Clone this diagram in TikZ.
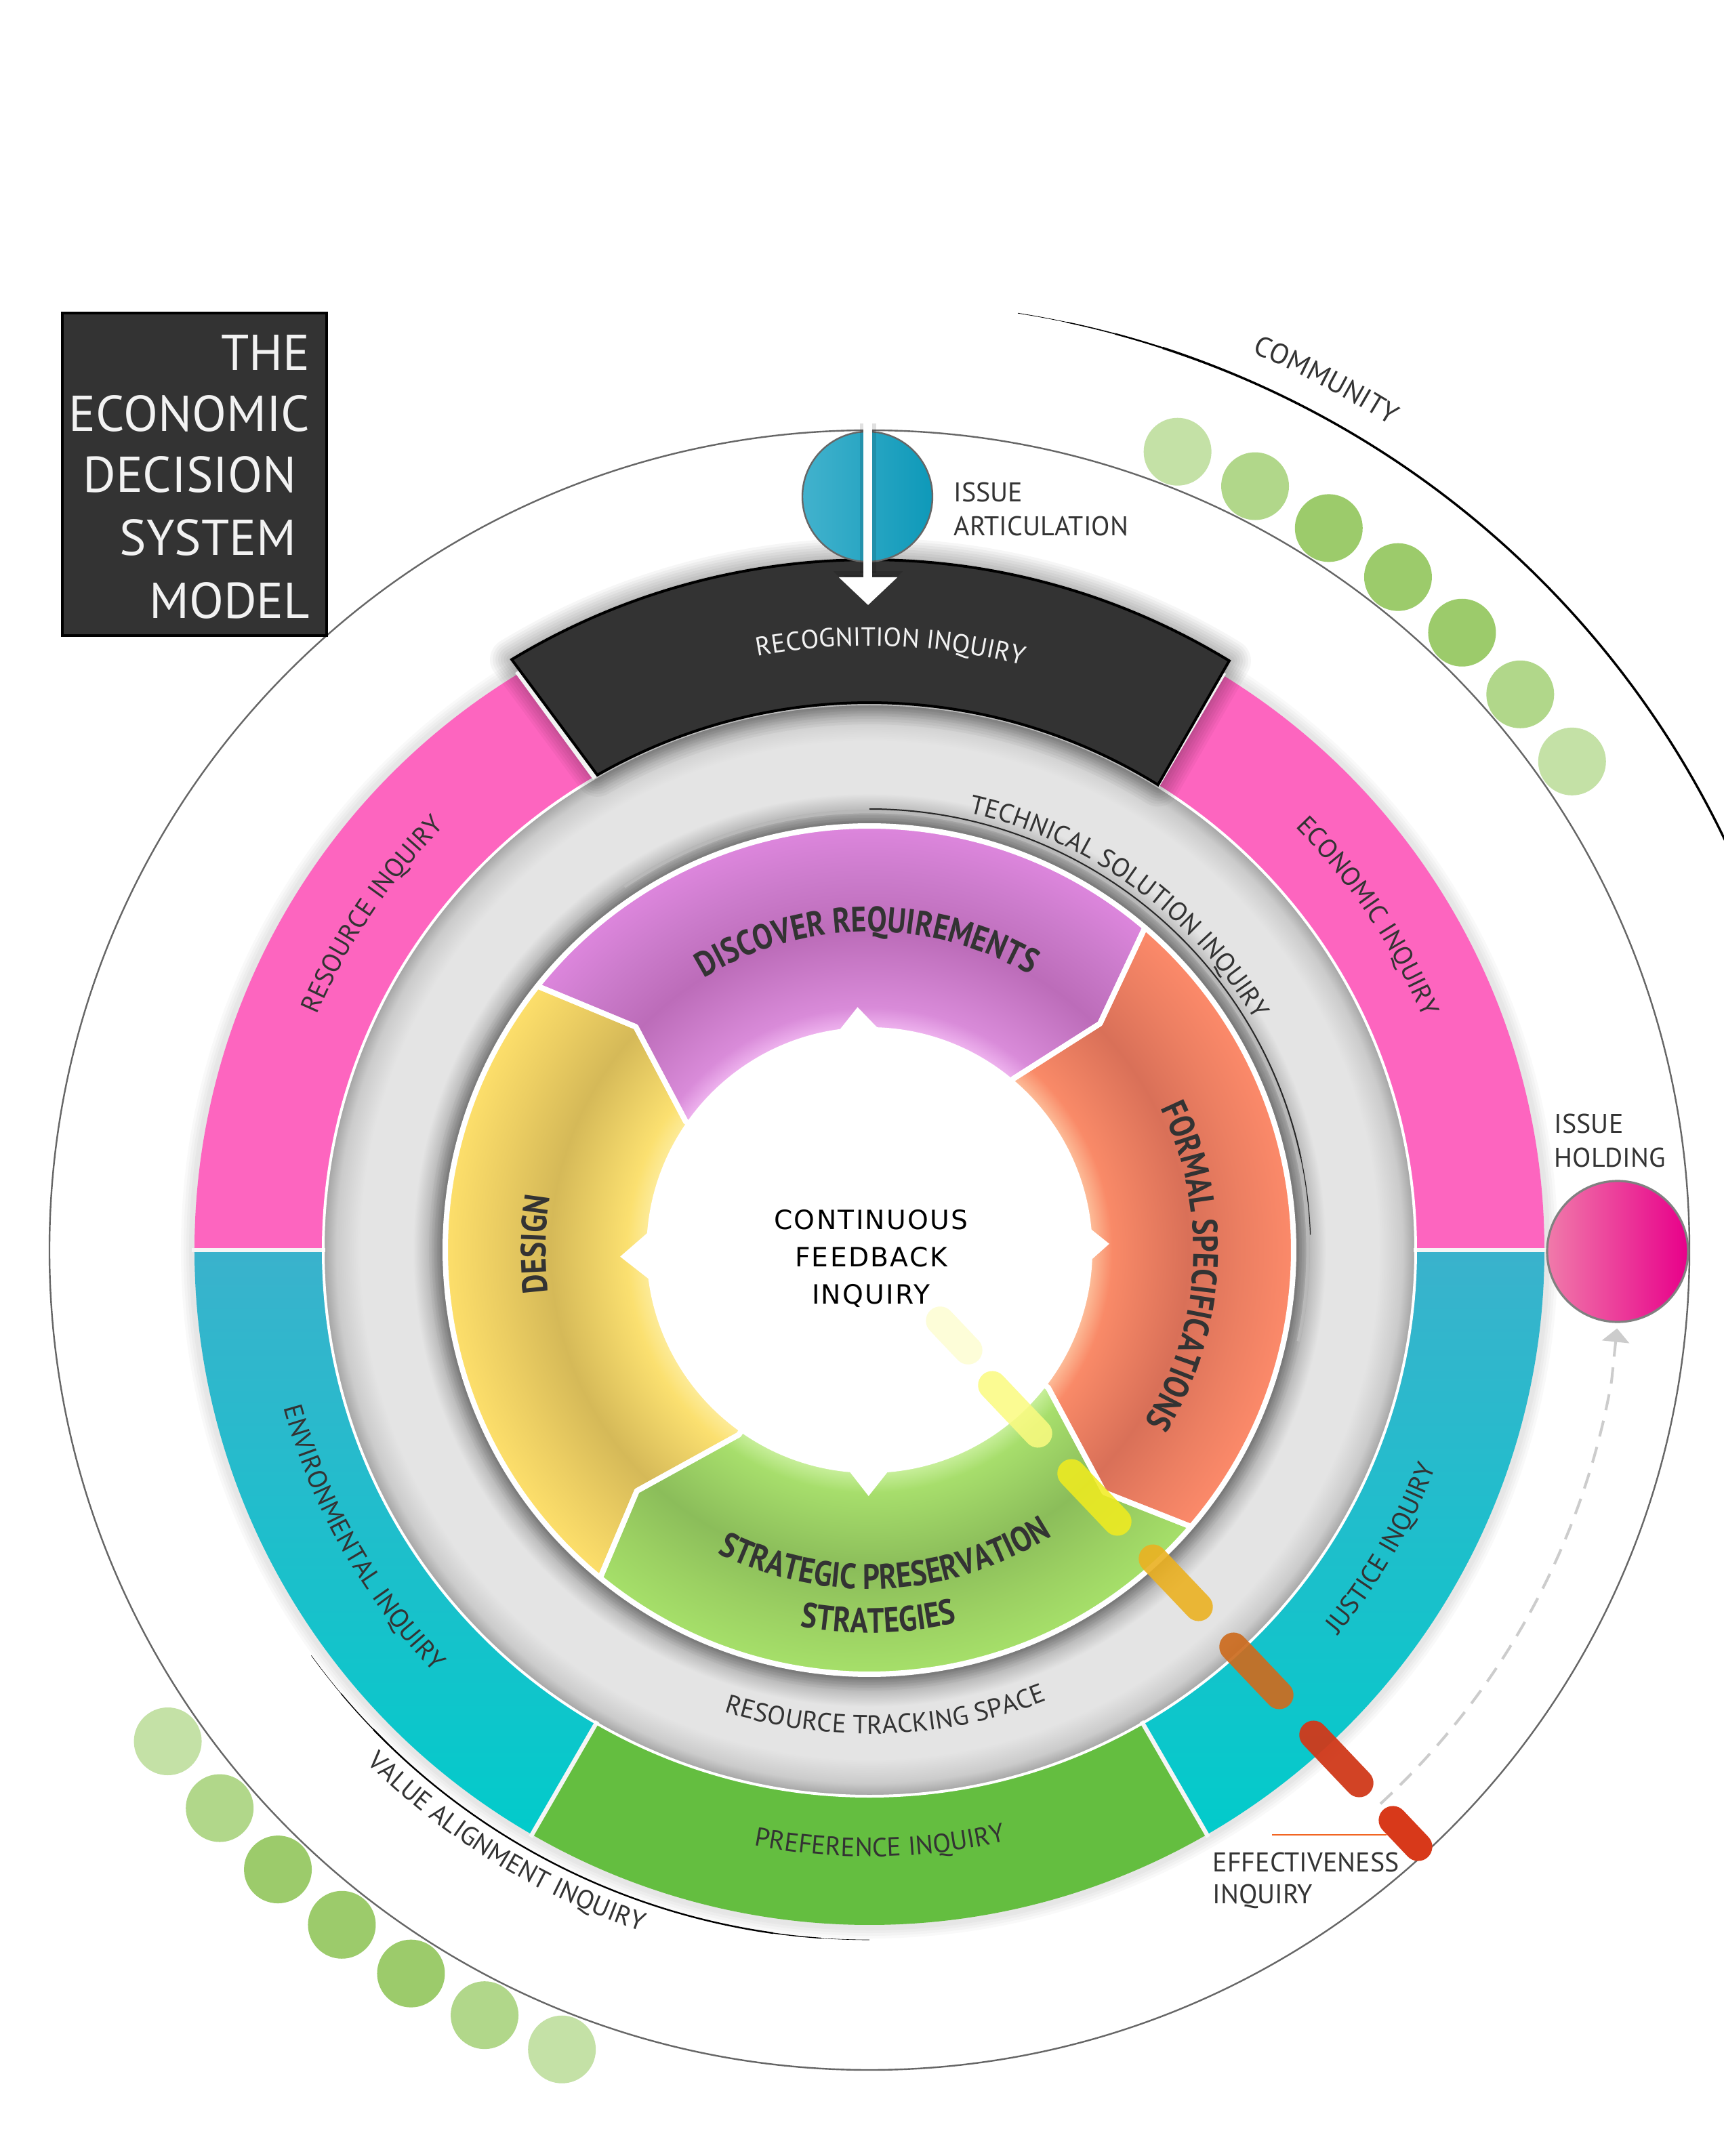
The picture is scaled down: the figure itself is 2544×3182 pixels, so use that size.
\documentclass[tikz,border=0pt]{standalone}
\usepackage{fontspec}
\setmainfont{PT Sans}
\newfontfamily\condfont[FakeStretch=0.84]{PT Sans}
\newfontfamily\centerfont[LetterSpace=6]{DejaVu Sans}
\usetikzlibrary{decorations.text,arrows.meta}

\definecolor{ink}{HTML}{333333}
\definecolor{bandc}{HTML}{333333}
\definecolor{pinkA}{HTML}{FD65BF}
\definecolor{tealT}{HTML}{3AB2CC}
\definecolor{tealB}{HTML}{02CBCB}
\definecolor{prefG}{HTML}{64BE40}
\definecolor{ringbase}{HTML}{E6E6E6}
\definecolor{cgA}{HTML}{C4E1A6}
\definecolor{cgB}{HTML}{B1D78A}
\definecolor{cgC}{HTML}{9CCB6B}
\definecolor{artL}{HTML}{42B2CD}
\definecolor{artM}{HTML}{3AAFCA}
\definecolor{artR}{HTML}{0E99B9}
\definecolor{holdL}{HTML}{F07AAA}
\definecolor{holdM}{HTML}{EC3C99}
\definecolor{holdR}{HTML}{E8008A}
\definecolor{effred}{HTML}{F26522}
% gray ring
\definecolor{grA}{HTML}{E4E4E4}
\definecolor{grB}{HTML}{8E8E8E}
\definecolor{grC}{HTML}{B2B2B2}
\definecolor{grD}{HTML}{E4E4E4}
\definecolor{grE}{HTML}{CBCBCB}
\definecolor{grF}{HTML}{A3A3A3}
% wheel
\definecolor{puA}{HTML}{F0B6F0}
\definecolor{puB}{HTML}{D98BD9}
\definecolor{puC}{HTML}{BC6CB9}
\definecolor{puD}{HTML}{CB7BCB}
\definecolor{puE}{HTML}{DD86DD}
\definecolor{yeA}{HTML}{FDEC9C}
\definecolor{yeB}{HTML}{FBE070}
\definecolor{yeC}{HTML}{D5B958}
\definecolor{yeD}{HTML}{EBCD62}
\definecolor{yeE}{HTML}{FDDF6B}
\definecolor{orA}{HTML}{FDC09C}
\definecolor{orB}{HTML}{F98A68}
\definecolor{orC}{HTML}{D97058}
\definecolor{orD}{HTML}{EC7F62}
\definecolor{orE}{HTML}{FC8A6A}
\definecolor{grnA}{HTML}{CAF09E}
\definecolor{grnB}{HTML}{A7DE6C}
\definecolor{grnC}{HTML}{8BBD5A}
\definecolor{grnD}{HTML}{9BD062}
\definecolor{grnE}{HTML}{A6E06A}
% pills
\definecolor{pl1}{HTML}{FDFDD8}
\definecolor{pl2}{HTML}{FBFB80}
\definecolor{pl3}{HTML}{F2EC1E}
\definecolor{pl4}{HTML}{EBB122}
\definecolor{pl5}{HTML}{CD6C1F}
\definecolor{pl6}{HTML}{D0391A}
\definecolor{pl7}{HTML}{D8391A}

\pgfdeclareradialshading{grayring}{\pgfpointorigin}{color(0bp)=(grA); color(19.5bp)=(grB); color(20.0bp)=(grC); color(20.9bp)=(grD); color(23.3bp)=(grD); color(24.4bp)=(grE); color(25bp)=(grF); color(50bp)=(grF)}
\pgfdeclareradialshading{purring}{\pgfpointorigin}{color(0bp)=(puA); color(13bp)=(puA); color(14.3bp)=(puB); color(18.8bp)=(puC); color(22bp)=(puD); color(25bp)=(puE); color(50bp)=(puE)}
\pgfdeclareradialshading{yelring}{\pgfpointorigin}{color(0bp)=(yeA); color(13bp)=(yeA); color(14.3bp)=(yeB); color(18.8bp)=(yeC); color(22bp)=(yeD); color(25bp)=(yeE); color(50bp)=(yeE)}
\pgfdeclareradialshading{orring}{\pgfpointorigin}{color(0bp)=(orA); color(13bp)=(orA); color(14.3bp)=(orB); color(18.8bp)=(orC); color(22bp)=(orD); color(25bp)=(orE); color(50bp)=(orE)}
\pgfdeclareradialshading{grnring}{\pgfpointorigin}{color(0bp)=(grnA); color(13bp)=(grnA); color(14.3bp)=(grnB); color(18.8bp)=(grnC); color(22bp)=(grnD); color(25bp)=(grnE); color(50bp)=(grnE)}

\newcommand\lblfont{\fontsize{9.7pt}{11pt}\selectfont\color{ink}}
\newcommand\lblbig{\fontsize{10.4pt}{12pt}\selectfont\color{ink}}
\newcommand\lblwhite{\fontsize{9.7pt}{11pt}\selectfont\color{white!95!black}}
\newcommand\bcfont{\condfont\bfseries\fontsize{13pt}{15pt}\selectfont\color{ink}}

% text on a circle, tops outward (clockwise)
\newcommand\topText[5]{\path[decorate,decoration={text along path,text align=center,text={|#4|#5}}]
  ({#2+#3}:#1) arc[start angle={#2+#3}, end angle={#2-#3}, radius=#1];}
% text on a circle, tops inward (counter-clockwise)
\newcommand\botText[5]{\path[decorate,decoration={text along path,text align=center,text={|#4|#5}}]
  ({#2-#3}:#1) arc[start angle={#2-#3}, end angle={#2+#3}, radius=#1];}

\newcommand\ringseg[3]{\path[#3] (#1:806) arc[start angle=#1,end angle=#2,radius=806] -- (#2:996) arc[start angle=#2,end angle=#1,radius=996] -- cycle;}
\newcommand\bandshape[1]{\path[#1] (58.2:808) arc[start angle=58.2,end angle=119.8,radius=808] -- (121.2:1019) arc[start angle=121.2,end angle=58.6,radius=1019] -- cycle;}
\newcommand\segPurple[1]{\path[#1] (49.5:626) arc[start angle=49.5,end angle=141.5,radius=626] -- (136.3:477) -- (145:331) -- (145:300) arc[start angle=145,end angle=50,radius=300] -- (50:330) -- (44.5:477) -- cycle;}
\newcommand\segYellow[1]{\path[#1] (141.5:626) arc[start angle=141.5,end angle=230.6,radius=626] -- (226:494) -- (234.7:334) -- (234.7:300) arc[start angle=234.7,end angle=145,radius=300] -- (145:331) -- (136.3:477) -- cycle;}
\newcommand\segGreen[1]{\path[#1] (230.6:626) arc[start angle=230.6,end angle=319.3,radius=626] -- (314.1:498) -- (322.4:333) -- (322.4:300) arc[start angle=322.4,end angle=234.7,radius=300] -- (234.7:334) -- (226:494) -- cycle;}
\newcommand\segOrange[1]{\path[#1] (319.3:626) arc[start angle=319.3,end angle=409.5,radius=626] -- (44.5:477) -- (50:330) -- (50:300) arc[start angle=410,end angle=322.4,radius=300] -- (322.4:333) -- (314.1:498) -- cycle;}
\newcommand\pillbar[4]{\draw[pillstyle,#4] (#1,#2) ++(133.5:#3) -- ++(-46.5:{2*#3});}

\begin{document}
\begin{tikzpicture}[x=0.25pt,y=0.25pt,
  pillstyle/.style={line width=10.5pt,line cap=round},
  plainlbl/.style={font=\fontsize{10pt}{12pt}\selectfont,text=ink,inner sep=0,anchor=base west},
  titlelbl/.style={font=\fontsize{18.6pt}{22pt}\selectfont,text=white!95!black,inner sep=0,anchor=base east},
  centerlbl/.style={font=\centerfont\fontsize{9.8pt}{12pt}\selectfont,text=black,inner sep=0,anchor=base},
  dasharrow/.style={draw=black!20,line width=1pt,dash pattern=on 6pt off 4pt,-{Triangle[width=10pt,length=5pt]}}]
\useasboundingbox (-1283,-1337) rectangle (1261,1845);
\fill[white] (-1283,-1337) rectangle (1261,1845);

% ---- outer circle and community / value arcs
\draw[line width=0.6pt,color=black!60] (0,0) circle[radius=1210];
\draw[line width=0.2pt] (81:1400) arc[start angle=81,end angle=78,radius=1400];
\draw[line width=0.4pt] (78:1400) arc[start angle=78,end angle=75,radius=1400];
\draw[line width=0.6pt] (75:1400) arc[start angle=75,end angle=72,radius=1400];
\draw[line width=0.85pt] (72:1400) arc[start angle=72,end angle=25.5,radius=1400];
\draw[line width=0.15pt] (216:1018) arc[start angle=216,end angle=220,radius=1018];
\draw[line width=0.35pt] (220:1018) arc[start angle=220,end angle=224,radius=1018];
\draw[line width=0.6pt] (224:1018) arc[start angle=224,end angle=262,radius=1018];
\draw[line width=0.35pt] (262:1018) arc[start angle=262,end angle=266,radius=1018];
\draw[line width=0.15pt] (266:1018) arc[start angle=266,end angle=270,radius=1018];

% community dots
\foreach \i/\c in {0/cgA,1/cgB,2/cgC,3/cgC,4/cgC,5/cgB,6/cgA}{
  \fill[\c] ({68.9-5.68*\i}:1263) circle[radius=50];
  \fill[\c] ({215+5.66*\i}:1264) circle[radius=50];}

% ---- outer coloured ring
\foreach \w in {2,4,6,8}{\draw[black,opacity=0.025,line width=\w pt] (0,0) circle[radius=1000];}
\fill[ringbase] (0,0) circle[radius=1001];
\shade[shading=grayring] (0,0) circle[radius=806];
\ringseg{0}{60}{fill=pinkA}
\ringseg{120}{180}{fill=pinkA}
\ringseg{180}{240}{top color=tealT,bottom color=tealB}
\ringseg{240}{300}{fill=prefG}
\ringseg{300}{360}{top color=tealT,bottom color=tealB}
\foreach \a in {0,180,240,300}{\draw[white!92!gray,line width=1.6pt] (\a:803) -- (\a:1000);}
\draw[white,line width=1pt] (0,0) circle[radius=806];

% ---- recognition band
\foreach \w in {2,4,...,16}{\bandshape{draw=black,line width=\w pt,opacity=0.035,line join=round}}
\draw[white!90!gray,line width=3pt] (58.4:806) -- (58.6:1000);
\draw[white!90!gray,line width=3pt] (120:806) -- (121.2:1000);
\bandshape{fill=bandc,draw=black,line width=1pt}

% ---- inner wheel
\foreach \w in {2,4,6,8,10}{\draw[black,opacity=0.03,line width=\w pt] (0,0) circle[radius=630];}
\begin{scope}\segPurple{clip}\shade[shading=purring] (0,0) circle[radius=626];\end{scope}
\begin{scope}\segYellow{clip}\shade[shading=yelring] (0,0) circle[radius=626];\end{scope}
\begin{scope}\segGreen{clip}\shade[shading=grnring] (0,0) circle[radius=626];\end{scope}
\begin{scope}\segOrange{clip}\shade[shading=orring] (0,0) circle[radius=626];\end{scope}
\segPurple{draw=white,line width=2pt,line join=round}
\segYellow{draw=white,line width=2pt,line join=round}
\segGreen{draw=white,line width=2pt,line join=round}
\segOrange{draw=white,line width=2pt,line join=round}
\fill[white] (0,0) circle[radius=329];
\fill[white] (92.8:359) -- ({92.8-5.3}:326) -- ({92.8+5.3}:326) -- cycle;
\fill[white] (181.5:368) -- ({181.5-6.4}:326) -- ({181.5+6.4}:326) -- cycle;
\fill[white] (1.5:354) -- ({1.5-4.3}:326) -- ({1.5+4.3}:326) -- cycle;
\fill[white] (269.8:363) -- ({269.8-5.3}:326) -- ({269.8+5.3}:326) -- cycle;

% technical solution arc
\draw[black!28,line width=1.2pt] (124:647) arc[start angle=124,end angle=-12,radius=647];
\draw[black!85,line width=0.5pt] (90:651) arc[start angle=90,end angle=12,radius=651];
\draw[black!85,line width=0.3pt] (12:651) arc[start angle=12,end angle=2,radius=651];

% ---- texts on circles
\topText{892}{88}{40}{\lblwhite}{RECOGNITION INQUIRY}
\topText{886}{146}{40}{\lblfont}{RESOURCE INQUIRY}
\topText{886}{33.8}{40}{\lblfont}{ECONOMIC INQUIRY}
\botText{895}{209.6}{40}{\lblfont}{ENVIRONMENTAL INQUIRY}
\botText{895}{329.8}{40}{\lblfont}{JUSTICE INQUIRY}
\botText{895}{271}{40}{\lblfont}{PREFERENCE INQUIRY}
\botText{714}{272}{45}{\lblfont}{RESOURCE TRACKING SPACE}
\topText{662}{54}{50}{\lblfont}{TECHNICAL SOLUTION INQUIRY}
\topText{1440}{62.3}{30}{\lblbig}{COMMUNITY}
\botText{1060}{238.5}{40}{\lblfont}{VALUE ALIGNMENT INQUIRY}
\topText{470}{90.5}{70}{\bcfont}{DISCOVER REQUIREMENTS}
\topText{478}{-3}{70}{\bcfont}{FORMAL SPECIFICATIONS}
\topText{478}{179}{40}{\bcfont}{DESIGN}
\botText{500}{273}{70}{\bcfont}{STRATEGIC PRESERVATION}
\botText{565}{271.4}{45}{\bcfont}{STRATEGIES}

% centre text
\node[centerlbl] (cf1) at (2.5,31) {CONTINUOUS};
\node[centerlbl] (cf2) at (2.5,-24) {FEEDBACK};
\node[centerlbl] (cf3) at (2.5,-79.5) {INQUIRY};

% ---- title
\node[fill=bandc,draw=black,line width=1pt,minimum width=97.5pt,minimum height=119pt,inner sep=0] (titlebox) at (-996,1145) {};
\node[titlelbl] (t1) at (-825,1298) {THE};
\node[titlelbl] (t2) at (-825,1208) {ECONOMIC};
\node[titlelbl] (t3) at (-845,1118) {DECISION};
\node[titlelbl] (t4) at (-845,1025) {SYSTEM};
\node[titlelbl] (t5) at (-825,932) {MODEL};

% ---- issue articulation
\node[circle,draw=black!60,line width=0.6pt,minimum size=48pt,inner sep=0,left color=artL,middle color=artM,right color=artR] (artic) at (-3,1112) {};
\coordinate (artop) at (-2,1220);
\coordinate (arbot) at (-2,952);
\draw[black,opacity=0.12,line width=6pt,-{Triangle[width=25pt,length=12.5pt]}] (artop) -- (arbot);
\draw[white,line width=3.25pt,-{Triangle[width=21pt,length=10.25pt]}] (artop) -- (arbot);
\node[plainlbl] (ia1) at (124,1104) {ISSUE};
\node[plainlbl] (ia2) at (124,1054) {ARTICULATION};

% ---- issue holding
\node[circle,draw=black!50,line width=0.8pt,minimum size=52pt,inner sep=0,left color=holdL,middle color=holdM,right color=holdR] (hold) at (1104,-2) {};
\node[plainlbl] (ih1) at (1010,173) {ISSUE};
\node[plainlbl] (ih2) at (1010,123) {HOLDING};

% ---- effectiveness pills
\pillbar{125}{-126}{30}{pl1}
\pillbar{215}{-235}{49}{pl2,opacity=0.85}
\pillbar{332}{-365}{49}{pl3,opacity=0.85}
\pillbar{452}{-491}{49}{pl4,opacity=0.9}
\pillbar{571}{-621}{49}{pl5,opacity=0.92}
\pillbar{689}{-751}{49}{pl6,opacity=0.95}
\pillbar{791}{-861}{27}{pl7}
\coordinate (dashstart) at (-47.3:1112);
\draw[dasharrow,shorten >=2pt] (dashstart) arc[start angle=-47.3,end angle=-10,radius=1112] -- (hold.south);
\draw[effred,line width=0.6pt] (594,-863) -- (763,-863);
\node[plainlbl] (ef1) at (506,-917) {EFFECTIVENESS};
\node[plainlbl] (ef2) at (506,-964) {INQUIRY};
\end{tikzpicture}
\end{document}
